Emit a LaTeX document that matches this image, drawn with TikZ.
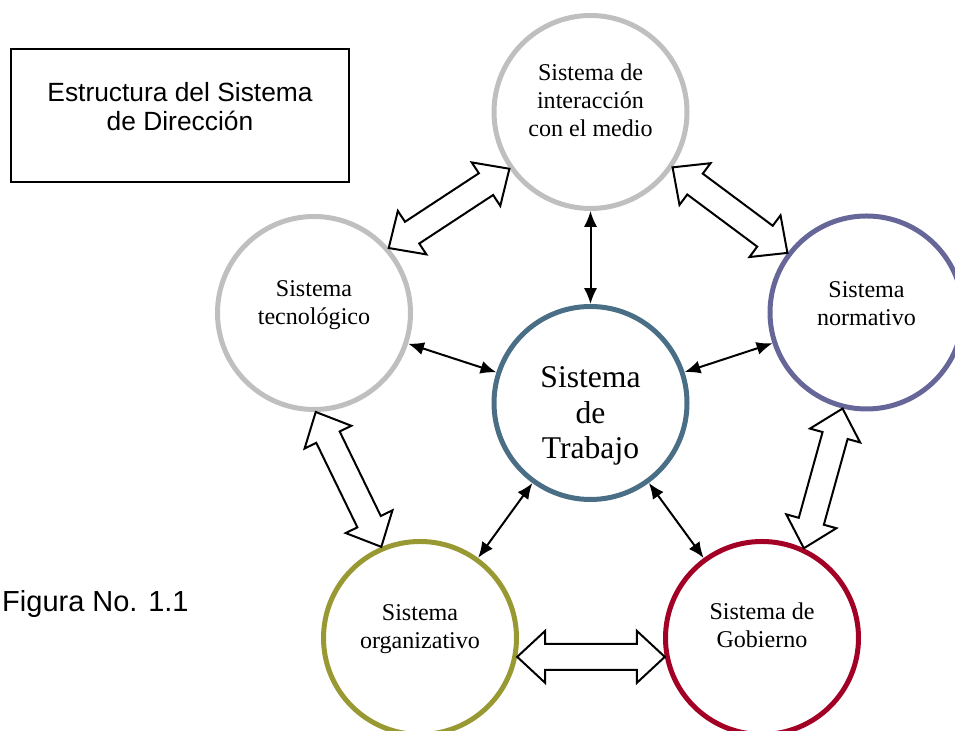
\documentclass[tikz,border=0pt]{standalone}
\usepackage{fontspec}
\setmainfont{Liberation Serif}
\newfontfamily\arialfont{Liberation Sans}
\usetikzlibrary{arrows.meta,calc}
\definecolor{grisanillo}{RGB}{191,191,191}
\definecolor{azulnorma}{RGB}{102,102,153}
\definecolor{azultrabajo}{RGB}{74,110,133}
\definecolor{oliva}{RGB}{153,153,51}
\definecolor{granate}{RGB}{163,0,38}
\newcommand{\flechadoble}[2]{%
  \draw[bloque] (#1)
    -- ($(#1)!0.56cm!(#2)!0.52cm!90:(#2)$)
    -- ($(#1)!0.56cm!(#2)!0.26cm!90:(#2)$)
    -- ($(#2)!0.56cm!(#1)!0.26cm!90:(#2)$)
    -- ($(#2)!0.56cm!(#1)!0.52cm!90:(#2)$)
    -- (#2)
    -- ($(#2)!0.56cm!(#1)!0.52cm!-90:(#2)$)
    -- ($(#2)!0.56cm!(#1)!0.26cm!-90:(#2)$)
    -- ($(#1)!0.56cm!(#2)!0.26cm!-90:(#2)$)
    -- ($(#1)!0.56cm!(#2)!0.52cm!-90:(#2)$)
    -- cycle;}
\begin{document}
\begin{tikzpicture}[
    sistema/.style={circle, draw=#1, line width=0.1cm, minimum size=3.86cm, inner sep=0pt},
    letra/.style={font=\fontsize{13.7}{15.9}\selectfont, align=center},
    flecha/.style={line width=0.04cm, {Latex[length=9pt,width=7.5pt]}-{Latex[length=9pt,width=7.5pt]}},
    bloque/.style={line width=0.04cm, fill=white, draw=black}]
    \clip (0,0) rectangle (19.1,14.62);
    \node[draw, line width=0.035cm, minimum width=6.76cm, minimum height=2.66cm,
      label={[font=\arialfont\fontsize{15}{16.4}\selectfont, align=center, yshift=0.18cm]center:{Estructura del Sistema\\de Dirección}}] (titulo) at (3.6,12.31) {};
    \node[font=\arialfont\fontsize{16.5}{18}\selectfont, anchor=east, inner sep=0pt] (figura) at (3.78,2.54) {Figura No. 1.1};
    \node[sistema=grisanillo, label={[letra, yshift=0.24cm]center:{Sistema de\\interacción\\con el medio}}] (inter) at (11.81,12.38) {};
    \node[sistema=grisanillo, label={[letra, yshift=0.16cm]center:{Sistema\\tecnológico}}] (tec) at (6.28,8.36) {};
    \node[sistema=azulnorma, label={[letra, yshift=0.17cm]center:{Sistema\\normativo}}] (norm) at (17.33,8.37) {};
    \node[sistema=azultrabajo, label={[font=\fontsize{18}{20.4}\selectfont, align=center, yshift=-0.26cm]center:{Sistema\\de\\Trabajo}}] (trab) at (11.81,6.56) {};
    \node[sistema=oliva, label={[letra, yshift=0.17cm]center:{Sistema\\organizativo}}] (org) at (8.4,1.86) {};
    \node[sistema=granate, label={[letra, yshift=0.26cm]center:{Sistema de\\Gobierno}}] (gob) at (15.24,1.86) {};
    \foreach \s in {inter,tec,norm,org,gob}
    {
      \draw[flecha] (\s) -- (trab);
    }
    \foreach \a/\b in {tec.41/inter.215, inter.326/norm.143, tec.271/org.113, norm.256/gob.65, org.349/gob.191}
    {
      \flechadoble{\a}{\b}
    }
\end{tikzpicture}
\end{document}
